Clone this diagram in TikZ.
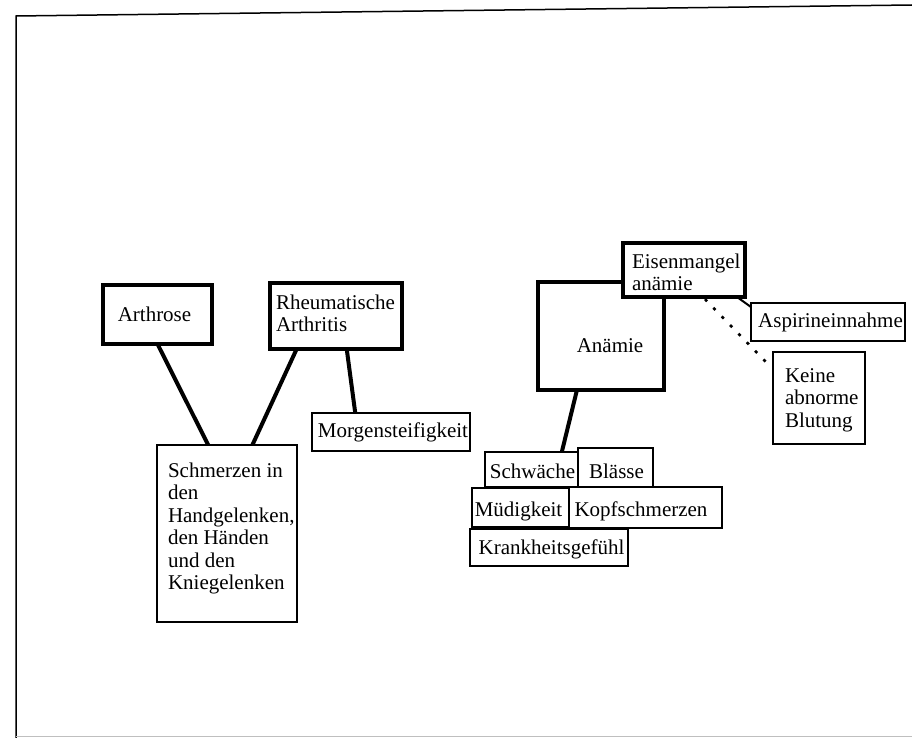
\documentclass[tikz,border=0pt]{standalone}
\usepackage{fontspec}
\setmainfont{Liberation Serif}
\begin{document}
\begin{tikzpicture}[x=1pt,y=-1pt,
  thickbox/.style={draw, rectangle, line width=4pt, fill=white, outer sep=0pt, inner sep=0pt},
  thinbox/.style={draw, rectangle, line width=1.8pt, fill=white, outer sep=0pt, inner sep=0pt},
  lbl/.style={inner sep=0pt, outer sep=0pt, align=left, font=\fontsize{21}{22.5}\selectfont},
  conn/.style={line width=4pt},
  thinconn/.style={line width=2pt},
  dotconn/.style={line width=2.6pt, dash pattern=on 3pt off 9pt},
  frameline/.style={line width=1.5pt}]
\useasboundingbox (0,0) rectangle (912,738);
% frame
\draw[frameline] (912,5) -- (16,16) -- (16,738);
\draw[line width=1pt, black!25] (16,736) -- (912,736);

% boxes
\node[thickbox, minimum width=109pt, minimum height=59pt] (arth) at (157.5,314.5) {};
\node[thickbox, minimum width=132pt, minimum height=66pt] (rheu) at (336,316) {};
\node[thinbox, minimum width=158pt, minimum height=38pt] (morg) at (391,432) {};
\node[thinbox, minimum width=140pt, minimum height=177pt] (schm) at (227,533.5) {};
\node[thickbox, minimum width=126pt, minimum height=108pt] (anam) at (601,336) {};
\node[thickbox, minimum width=122pt, minimum height=54pt] (eisen) at (684,270) {};
\node[thinbox, minimum width=154pt, minimum height=38pt] (asp) at (828,322) {};
\node[thinbox, minimum width=92pt, minimum height=92pt] (keine) at (819,398) {};
\node[thinbox, minimum width=93pt, minimum height=35pt] (schw) at (531.5,469.5) {};
\node[thinbox, minimum width=75pt, minimum height=39pt] (blas) at (615.5,467.5) {};
\node[thinbox, minimum width=97pt, minimum height=39pt] (mued) at (520.5,507.5) {};
\node[thinbox, minimum width=153pt, minimum height=41pt] (kopf) at (645.5,507.5) {};
\node[thinbox, minimum width=158pt, minimum height=37pt] (krank) at (549,547.5) {};

% connectors
\draw[conn] (arth.south) -- (schm.102);
\draw[conn] (rheu.220) -- (schm.74);
\draw[conn] (rheu.288) -- (morg.152);
\draw[conn] (anam.246) -- (schw.30);
\draw[thinconn] (eisen.333) -- (asp.169);
\draw[dotconn, shorten <=3pt, shorten >=6pt] (eisen.305) -- (keine.148);

% texts (multi-line nodes: base anchor = last line's baseline)
\node[lbl, anchor=base] (arthT) at (154.5,321) {Arthrose};
\node[lbl, anchor=base west] (rheuT) at (276,331.5) {Rheumatische\\Arthritis};
\node[lbl, anchor=base] (morgT) at (393,437) {Morgensteifigkeit};
\node[lbl, anchor=base west] (schmT) at (168,589.5) {Schmerzen in\\den\\Handgelenken,\\den Händen\\und den\\Kniegelenken};
\node[lbl, anchor=base] (anamT) at (610,352) {Anämie};
\node[lbl, anchor=base west] (eisenT) at (632,290.5) {Eisenmangel\\anämie};
\node[lbl, anchor=base] (aspT) at (830.5,327) {Aspirineinnahme};
\node[lbl, anchor=base west] (keineT) at (785,427) {Keine\\abnorme\\Blutung};
\node[lbl, anchor=base] (schwT) at (532.5,478) {Schwäche};
\node[lbl, anchor=base] (blasT) at (616.5,478) {Blässe};
\node[lbl, anchor=base] (muedT) at (518.5,516) {Müdigkeit};
\node[lbl, anchor=base] (kopfT) at (641,516) {Kopfschmerzen};
\node[lbl, anchor=base] (krankT) at (551.5,554) {Krankheitsgefühl};
\end{tikzpicture}
\end{document}
